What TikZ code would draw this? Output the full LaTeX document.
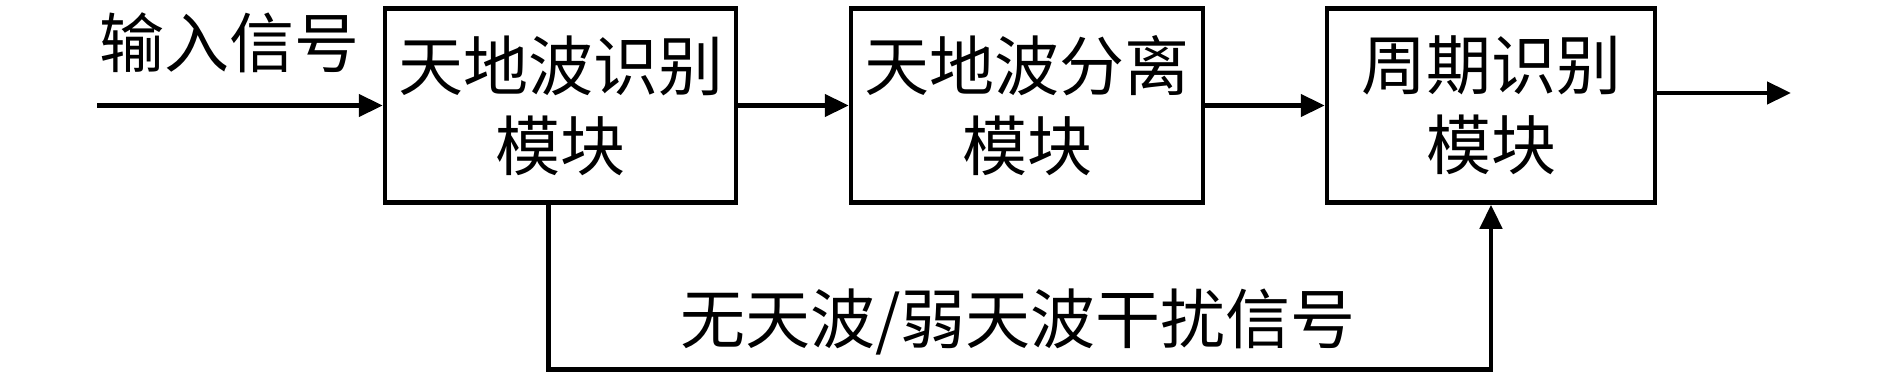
\documentclass[tikz,border=0pt]{standalone}
\usepackage{fontspec}
\newfontfamily\cjk{Noto Sans CJK SC}
\usetikzlibrary{arrows.meta,positioning}

\begin{document}
\begin{tikzpicture}[x=1pt, y=1pt, line width=4.5pt,
  box/.style={draw, minimum height=194pt, inner sep=0pt, align=center, font=\cjk\fontsize{65}{80}\selectfont},
  lbl/.style={inner sep=0pt, font=\cjk\fontsize{65}{80}\selectfont},
  >={Triangle[length=24pt,width=22pt]}]
\useasboundingbox (0,0) rectangle (1890,378);
\node[box, minimum width=351pt] (iden) at (560.5,272.5) {天地波识别\\模块};
\node[box, minimum width=352pt, right=110.5pt of iden] (sep) {天地波分离\\模块};
\node[box, minimum width=328pt, right=119.5pt of sep] (period) {周期识别\\模块};
\coordinate (in) at (97,272.5);
\coordinate (out) at (1791,285);
\node[lbl] (inlbl) at (229,335) {输入信号};
\node[lbl] (fblbl) at (1018,56) {无天波/弱天波干扰信号};
\draw[->] (in) -- (iden.west);
\draw[->] (iden) -- (sep);
\draw[->] (sep) -- (period);
\draw[->] ([yshift=12.5pt]period.east) -- (out);
\draw[->] ([xshift=-12pt]iden.south) -- ++(0,-164.5) -| (period.south);
\end{tikzpicture}
\end{document}
